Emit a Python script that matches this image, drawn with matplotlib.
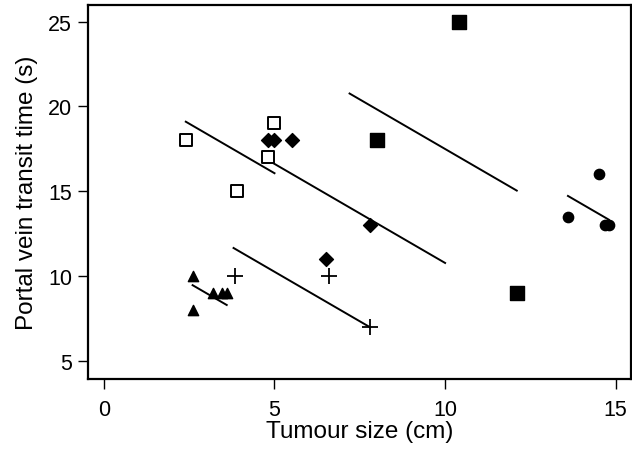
import numpy as np
import matplotlib
matplotlib.use("Agg")
import matplotlib.pyplot as plt

plt.rcParams['font.family'] = ['Liberation Sans', 'DejaVu Sans']

# groups of points (tumour size cm, transit time s)
open_sq_x = [2.4, 3.9, 4.8, 5.0]
open_sq_y = [18, 15, 17, 19]
diamond_x = [4.8, 5.0, 5.5, 6.5, 7.8]
diamond_y = [18, 18, 18, 11, 13]
filled_sq_x = [8.0, 10.4, 12.1]
filled_sq_y = [18, 25, 9]
triangle_x = [2.6, 2.6, 3.2, 3.45, 3.6]
triangle_y = [10, 8, 9, 9, 9]
plus_x = [3.85, 6.6, 7.8]
plus_y = [10, 10, 7]
circle_x = [13.6, 14.5, 14.7, 14.8]
circle_y = [13.5, 16, 13, 13]

# fitted lines: common slope, per group intercept and x range
slope = -1.17
intercepts = [21.91, 22.46, 29.19, 12.49, 16.09, 30.63]
x_from = [2.4, 4.8, 7.2, 2.6, 3.8, 13.6]
x_to = [5.0, 10.0, 12.1, 3.6, 7.8, 14.8]

fig = plt.figure(figsize=(6.32, 4.52), dpi=100)
ax = fig.add_axes([0.139, 0.159, 0.859, 0.828])

for a, x0, x1 in zip(intercepts, x_from, x_to):
    xs = np.array([x0, x1])
    ax.plot(xs, a + slope * xs, color='black', lw=1.4, zorder=2)

ax.scatter(open_sq_x, open_sq_y, marker='s', s=70, facecolors='white',
           edgecolors='black', linewidths=1.4, zorder=3)
ax.scatter(diamond_x, diamond_y, marker='D', s=50, color='black', zorder=3)
ax.scatter(filled_sq_x, filled_sq_y, marker='s', s=95, color='black', zorder=3)
ax.scatter(triangle_x, triangle_y, marker='^', s=55, color='black', zorder=3)
ax.scatter(plus_x, plus_y, marker='+', s=130, color='black', linewidths=1.3, zorder=3)
ax.scatter(circle_x, circle_y, marker='o', s=55, color='black', zorder=3)

ax.set_xlim(-0.47, 15.44)
ax.set_ylim(3.9, 26)
ax.set_xticks([0, 5, 10, 15])
ax.set_yticks([5, 10, 15, 20, 25])
ax.tick_params(labelsize=15.5, length=7, width=1)
ax.tick_params(axis='x', pad=7)
ax.tick_params(axis='y', pad=4.5)
for sp in ax.spines.values():
    sp.set_linewidth(1.6)

ax.set_xlabel('Tumour size (cm)', fontsize=17.5, labelpad=0)
ax.set_ylabel('Portal vein transit time (s)', fontsize=17.5, labelpad=7)

fig.savefig('out.png', dpi=100)
